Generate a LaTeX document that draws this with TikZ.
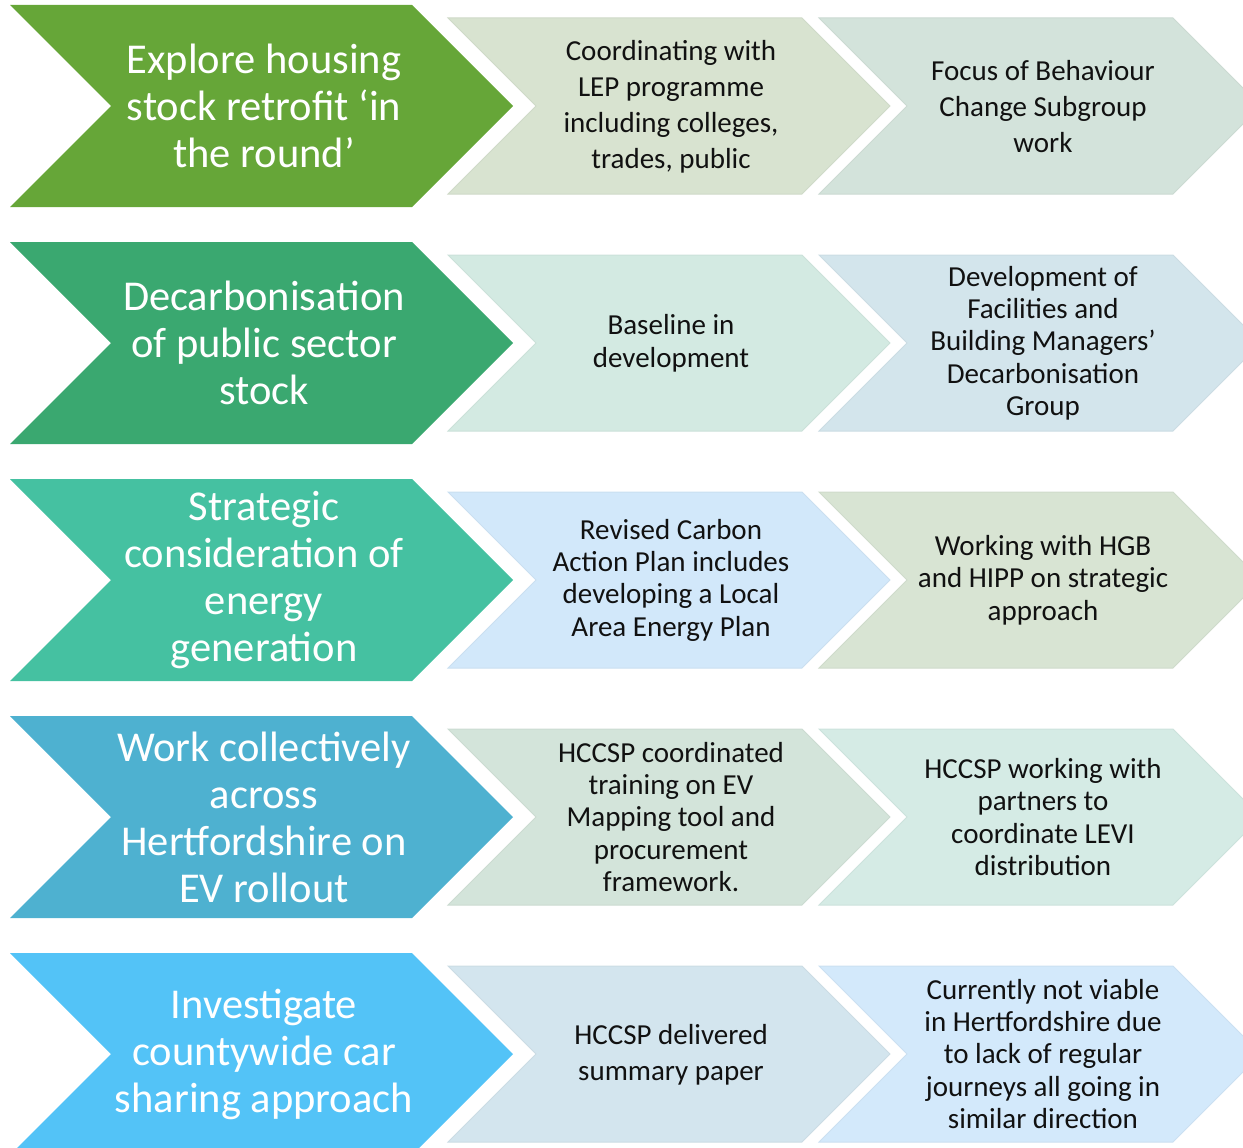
\documentclass[tikz,border=0pt]{standalone}
\usepackage{fontspec}
\setmainfont{Carlito}
\definecolor{gA}{HTML}{66A638}
\definecolor{gB}{HTML}{3AA870}
\definecolor{gC}{HTML}{45C1A1}
\definecolor{gD}{HTML}{4EB1D0}
\definecolor{gE}{HTML}{53C3F7}
\definecolor{sA2}{HTML}{D8E3D0}
\definecolor{sA3}{HTML}{D3E3DB}
\definecolor{sB2}{HTML}{D3EAE2}
\definecolor{sB3}{HTML}{D3E5EC}
\definecolor{sC2}{HTML}{D2E8FA}
\definecolor{sC3}{HTML}{D8E4D3}
\definecolor{sD2}{HTML}{D3E4DA}
\definecolor{sD3}{HTML}{D5EBE5}
\definecolor{sE2}{HTML}{D3E5EE}
\definecolor{sE3}{HTML}{D3E9FB}
\definecolor{txt}{HTML}{111111}
% #1 left x, #2 top-right x, #3 centre y, #4 half height, #5 colour
\newcommand\chevshape[5]{%
  \fill[#5] (#1,#3-#4) -- (#2,#3-#4) -- (#2+#4,#3) -- (#2,#3+#4) -- (#1,#3+#4) -- (#1+#4,#3) -- cycle;}
\newcommand\smallchev[4]{%
  \filldraw[fill=#4, draw=#4!96!black, line width=1pt] (#1,#3-88) -- (#2,#3-88) -- (#2+88,#3) -- (#2,#3+88) -- (#1,#3+88) -- (#1+88,#3) -- cycle;}
\begin{document}
\begin{tikzpicture}[x=1pt,y=-1pt,
  bigtext/.style={text=white, align=center, inner sep=0pt, font=\fontsize{42.5}{47}\selectfont},
  smalltext/.style={text=txt, align=center, inner sep=0pt, font=\fontsize{29}{32.3}\selectfont},
  smalltextwide/.style={text=txt, align=center, inner sep=0pt, font=\fontsize{29}{36}\selectfont}]
\useasboundingbox (0,0) rectangle (1243,1148);
% row 1
\chevshape{10}{412}{106}{101}{gA}
\smallchev{448}{802}{106}{sA2}
\smallchev{819}{1173}{106}{sA3}
\node[bigtext] (a1) at (264,106) {Explore housing\\stock retrofit ‘in\\the round’};
\node[smalltextwide] (b1) at (671,107) {Coordinating with\\LEP programme\\including colleges,\\trades, public};
\node[smalltextwide] (c1) at (1043,107) {Focus of Behaviour\\Change Subgroup\\work};
% row 2
\chevshape{10}{412}{343}{101}{gB}
\smallchev{448}{802}{343}{sB2}
\smallchev{819}{1173}{343}{sB3}
\node[bigtext] (a2) at (264,343) {Decarbonisation\\of public sector\\stock};
\node[smalltext, font=\fontsize{29}{33}\selectfont] (b2) at (671,343) {Baseline in\\development};
\node[smalltext] (c2) at (1043,343) {Development of\\Facilities and\\Building Managers’\\Decarbonisation\\Group};
% row 3
\chevshape{10}{412}{580}{101}{gC}
\smallchev{448}{802}{580}{sC2}
\smallchev{819}{1173}{580}{sC3}
\node[bigtext] (a3) at (264,580) {Strategic\\consideration of\\energy\\generation};
\node[smalltext] (b3) at (671,580) {Revised Carbon\\Action Plan includes\\developing a Local\\Area Energy Plan};
\node[smalltext] (c3) at (1043,580) {Working with HGB\\and HIPP on strategic\\approach};
% row 4
\chevshape{10}{412}{817}{101}{gD}
\smallchev{448}{802}{817}{sD2}
\smallchev{819}{1173}{817}{sD3}
\node[bigtext] (a4) at (264,817) {Work collectively\\across\\Hertfordshire on\\EV rollout};
\node[smalltext] (b4) at (671,817) {HCCSP coordinated\\training on EV\\Mapping tool and\\procurement\\framework.};
\node[smalltext] (c4) at (1043,817) {HCCSP working with\\partners to\\coordinate LEVI\\distribution};
% row 5
\chevshape{10}{412}{1054}{101}{gE}
\smallchev{448}{802}{1054}{sE2}
\smallchev{819}{1173}{1054}{sE3}
\node[bigtext] (a5) at (264,1054) {Investigate\\countywide car\\sharing approach};
\node[smalltextwide] (b5) at (671,1055) {HCCSP delivered\\summary paper};
\node[smalltext] (c5) at (1043,1054) {Currently not viable\\in Hertfordshire due\\to lack of regular\\journeys all going in\\similar direction};
\end{tikzpicture}
\end{document}
